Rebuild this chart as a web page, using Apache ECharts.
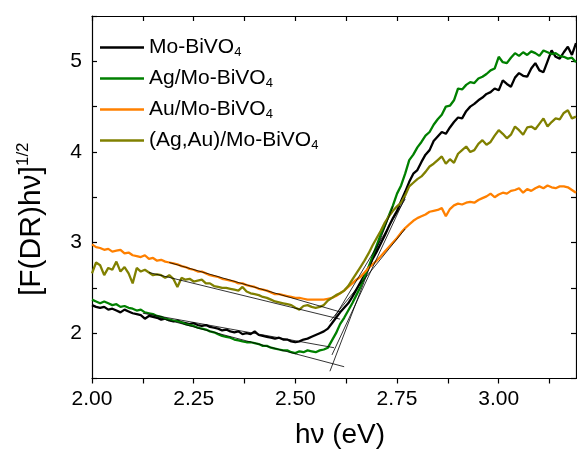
<!DOCTYPE html>
<html>
<head>
<meta charset="utf-8">
<script src="https://cdn.jsdelivr.net/npm/echarts@6/dist/echarts.min.js"></script>
<style>
  html, body { margin: 0; padding: 0; background: #ffffff; }
  #chart { width: 577px; height: 463px; }
</style>
</head>
<body>
<div id="chart"></div>
<script>
// Photon energy grid (eV)
const photonEnergy = [
  2.00,2.01,2.02,2.03,2.04,2.05,2.06,2.07,2.08,2.09,
  2.10,2.11,2.12,2.13,2.14,2.15,2.16,2.17,2.18,2.19,
  2.20,2.21,2.22,2.23,2.24,2.25,2.26,2.27,2.28,2.29,
  2.30,2.31,2.32,2.33,2.34,2.35,2.36,2.37,2.38,2.39,
  2.40,2.41,2.42,2.43,2.44,2.45,2.46,2.47,2.48,2.49,
  2.50,2.51,2.52,2.53,2.54,2.55,2.56,2.57,2.58,2.59,
  2.60,2.61,2.62,2.63,2.64,2.65,2.66,2.67,2.68,2.69,
  2.70,2.71,2.72,2.73,2.74,2.75,2.76,2.77,2.78,2.79,
  2.80,2.81,2.82,2.83,2.84,2.85,2.86,2.87,2.88,2.89,
  2.90,2.91,2.92,2.93,2.94,2.95,2.96,2.97,2.98,2.99,
  3.00,3.01,3.02,3.03,3.04,3.05,3.06,3.07,3.08,3.09,
  3.10,3.11,3.12,3.13,3.14,3.15,3.16,3.17,3.18,3.19
];

// Tauc-type values [F(DR)hν]^1/2 for each sample
const moBiVO4 = [
  2.31,2.29,2.28,2.29,2.26,2.27,2.25,2.23,2.26,2.24,
  2.22,2.21,2.20,2.16,2.19,2.18,2.17,2.15,2.16,2.14,
  2.13,2.14,2.12,2.11,2.10,2.11,2.09,2.08,2.09,2.07,
  2.06,2.05,2.03,2.04,2.02,2.01,2.02,1.99,2.00,1.99,
  2.02,1.98,1.97,1.96,1.95,1.94,1.95,1.93,1.93,1.91,
  1.90,1.91,1.93,1.94,1.96,1.98,2.00,2.02,2.05,2.11,
  2.17,2.23,2.28,2.33,2.40,2.48,2.56,2.64,2.72,2.82,
  2.90,2.99,3.08,3.18,3.27,3.35,3.46,3.56,3.67,3.76,
  3.80,3.89,3.97,4.02,4.12,4.17,4.22,4.20,4.27,4.33,
  4.38,4.37,4.45,4.50,4.53,4.57,4.60,4.64,4.66,4.70,
  4.68,4.79,4.75,4.72,4.82,4.87,4.84,4.83,4.92,4.98,
  4.90,4.88,5.00,5.12,5.05,5.03,5.10,5.16,5.07,5.20
];

const agMoBiVO4 = [
  2.37,2.35,2.33,2.35,2.33,2.31,2.32,2.29,2.30,2.28,
  2.27,2.25,2.26,2.23,2.22,2.21,2.19,2.18,2.16,2.15,
  2.14,2.13,2.12,2.10,2.09,2.08,2.06,2.05,2.04,2.02,
  2.01,1.99,1.97,1.96,1.95,1.93,1.92,1.91,1.90,1.90,
  1.89,1.88,1.86,1.86,1.84,1.83,1.82,1.81,1.81,1.79,
  1.78,1.80,1.79,1.81,1.80,1.79,1.81,1.82,1.84,1.92,
  2.00,2.10,2.17,2.25,2.33,2.42,2.51,2.62,2.73,2.85,
  2.97,3.09,3.19,3.30,3.41,3.54,3.63,3.76,3.91,3.97,
  4.05,4.11,4.18,4.22,4.30,4.36,4.41,4.50,4.51,4.57,
  4.70,4.69,4.74,4.77,4.76,4.81,4.83,4.86,4.90,4.92,
  5.05,4.99,4.98,5.04,5.09,5.06,5.10,5.07,5.11,5.09,
  5.06,5.12,5.10,5.08,5.09,5.06,5.05,5.03,5.04,4.99
];

const auMoBiVO4 = [
  2.98,2.95,2.94,2.92,2.93,2.90,2.91,2.92,2.88,2.89,
  2.86,2.85,2.84,2.86,2.82,2.83,2.80,2.81,2.79,2.78,
  2.77,2.76,2.74,2.73,2.71,2.70,2.68,2.68,2.66,2.64,
  2.63,2.62,2.60,2.59,2.58,2.57,2.55,2.55,2.53,2.52,
  2.51,2.49,2.48,2.47,2.45,2.43,2.43,2.42,2.41,2.40,
  2.39,2.39,2.38,2.37,2.37,2.37,2.37,2.37,2.38,2.39,
  2.41,2.44,2.47,2.51,2.55,2.59,2.62,2.67,2.72,2.76,
  2.80,2.85,2.90,2.95,3.00,3.05,3.11,3.16,3.20,3.24,
  3.27,3.29,3.31,3.34,3.35,3.36,3.38,3.29,3.37,3.41,
  3.43,3.42,3.44,3.45,3.44,3.47,3.49,3.51,3.54,3.50,
  3.53,3.55,3.54,3.57,3.58,3.60,3.55,3.59,3.57,3.60,
  3.62,3.60,3.63,3.61,3.60,3.62,3.62,3.61,3.58,3.55
];

const agAuMoBiVO4 = [
  2.66,2.78,2.75,2.64,2.72,2.70,2.79,2.68,2.73,2.66,
  2.55,2.72,2.68,2.70,2.67,2.64,2.65,2.64,2.61,2.64,
  2.60,2.51,2.61,2.59,2.60,2.57,2.58,2.59,2.55,2.55,
  2.52,2.51,2.50,2.50,2.49,2.48,2.47,2.51,2.46,2.44,
  2.43,2.42,2.40,2.39,2.37,2.35,2.34,2.33,2.32,2.31,
  2.28,2.26,2.30,2.31,2.29,2.28,2.29,2.31,2.36,2.39,
  2.42,2.44,2.47,2.52,2.59,2.66,2.73,2.80,2.88,2.97,
  3.05,3.13,3.22,3.29,3.35,3.40,3.44,3.52,3.62,3.66,
  3.70,3.73,3.78,3.84,3.87,3.91,3.95,3.87,3.92,3.88,
  3.98,4.02,4.06,4.00,4.02,4.09,4.13,4.08,4.11,4.18,
  4.24,4.20,4.15,4.19,4.28,4.24,4.19,4.27,4.28,4.25,
  4.31,4.37,4.28,4.33,4.37,4.36,4.43,4.46,4.37,4.39
];

// Linear fits: sub-gap baselines and absorption-edge tangents
const fitMoBase = [[2.125, 2.22], [2.595, 1.84]];
const fitAgBase = [[2.14, 2.20], [2.62, 1.63]];
const fitAuBase = [[2.19, 2.78], [2.61, 2.235]];
const fitAgAuBase = [[2.14, 2.67], [2.61, 2.155]];
const fitMoEdge = [[2.59, 1.76], [2.77, 3.50]];
const fitAgEdge = [[2.585, 1.58], [2.74, 3.40]];
const fitAuEdge = [[2.585, 2.13], [2.77, 3.15]];
const fitAgAuEdge = [[2.597, 2.18], [2.77, 3.48]];

const seriesNames = ['Mo-BiVO4', 'Ag/Mo-BiVO4', 'Au/Mo-BiVO4', '(Ag,Au)/Mo-BiVO4'];
const seriesColors = ['#000000', '#008000', '#ff8000', '#808000'];
const xTickLabels = ['2.00', '2.25', '2.50', '2.75', '3.00'];
const yTickLabels = ['2', '3', '4', '5'];

const FONT = "'Liberation Sans', Arial, sans-serif";
const curves = [moBiVO4, agMoBiVO4, auMoBiVO4, agAuMoBiVO4];
const fits = [fitMoBase, fitAgBase, fitAuBase, fitAgAuBase, fitMoEdge, fitAgEdge, fitAuEdge, fitAgAuEdge];

const pair = (ys) => photonEnergy.map((x, i) => [x, ys[i]]);

const dataSeries = curves.map((ys, k) => ({
  name: seriesNames[k],
  type: 'line',
  data: pair(ys),
  symbol: 'none',
  showSymbol: false,
  smooth: false,
  lineStyle: { color: seriesColors[k], width: 2.3 },
  itemStyle: { color: seriesColors[k] },
  z: 2 + k,
  silent: true
}));

const fitSeries = fits.map((pts) => ({
  type: 'line',
  data: pts,
  symbol: 'none',
  showSymbol: false,
  lineStyle: { color: '#000000', width: 0.8 },
  z: 10,
  silent: true
}));

const axisLineStyle = { color: '#000000', width: 1.2 };

const chart = echarts.init(document.getElementById('chart'), null, { renderer: 'canvas' });
chart.setOption({
  animation: false,
  backgroundColor: '#ffffff',
  textStyle: { fontFamily: FONT },
  grid: { left: 92, right: 1, top: 16, bottom: 84.5, containLabel: false },
  legend: {
    data: seriesNames,
    orient: 'vertical',
    left: 100,
    top: 37,
    padding: 0,
    itemGap: 9.5,
    itemWidth: 44,
    itemHeight: 2.6,
    icon: 'rect',
    selectedMode: false,
    formatter: (name) => '{n|' + name.slice(0, -1) + '}{s|' + name.slice(-1) + '}',
    textStyle: {
      color: '#000000',
      fontFamily: FONT,
      rich: {
        n: { fontSize: 21, lineHeight: 22, color: '#000000', fontFamily: FONT },
        s: { fontSize: 13, lineHeight: 6, verticalAlign: 'bottom', color: '#000000', fontFamily: FONT }
      }
    }
  },
  xAxis: [
    {
      type: 'value', position: 'bottom', min: 2.0, max: 3.19, interval: 0.125,
      axisLine: { show: true, onZero: false, lineStyle: axisLineStyle },
      axisTick: { show: true, inside: false, length: 5, lineStyle: axisLineStyle },
      axisLabel: {
        color: '#000000', fontSize: 21, fontFamily: FONT, margin: 10,
        showMaxLabel: false,
        formatter: (v) => { const s = v.toFixed(2); return xTickLabels.includes(s) ? s : ''; }
      },
      splitLine: { show: false },
      name: 'hν (eV)', nameLocation: 'middle', nameGap: 43,
      nameTextStyle: { color: '#000000', fontSize: 28, fontFamily: FONT, padding: [0, 0, 0, 12] }
    },
    {
      type: 'value', position: 'top', min: 2.0, max: 3.19, interval: 0.125,
      axisLine: { show: true, onZero: false, lineStyle: axisLineStyle },
      axisTick: { show: true, inside: true, length: 5, lineStyle: axisLineStyle },
      axisLabel: { show: false },
      splitLine: { show: false }
    }
  ],
  yAxis: [
    {
      type: 'value', position: 'left', min: 1.5, max: 5.5, interval: 0.5,
      axisLine: { show: true, onZero: false, lineStyle: axisLineStyle },
      axisTick: { show: true, inside: true, length: 5, lineStyle: axisLineStyle },
      axisLabel: {
        color: '#000000', fontSize: 21, fontFamily: FONT, margin: 10,
        formatter: (v) => { const s = String(Math.round(v * 100) / 100); return yTickLabels.includes(s) ? s : ''; }
      },
      splitLine: { show: false },
      name: '{m|[F(DR)hν]}{p|1/2}',
      nameLocation: 'middle', nameRotate: 90, nameGap: 43,
      nameTextStyle: {
        padding: [0, 44, 0, 0],
        rich: {
          m: { fontSize: 30, lineHeight: 34, color: '#000000', fontFamily: FONT },
          p: { fontSize: 17, lineHeight: 18, verticalAlign: 'top', color: '#000000', fontFamily: FONT }
        }
      }
    },
    {
      type: 'value', position: 'right', min: 1.5, max: 5.5, interval: 0.5,
      axisLine: { show: true, onZero: false, lineStyle: axisLineStyle },
      axisTick: { show: true, inside: true, length: 5, lineStyle: axisLineStyle },
      axisLabel: { show: false },
      splitLine: { show: false }
    }
  ],
  series: dataSeries.concat(fitSeries)
});
</script>
</body>
</html>
